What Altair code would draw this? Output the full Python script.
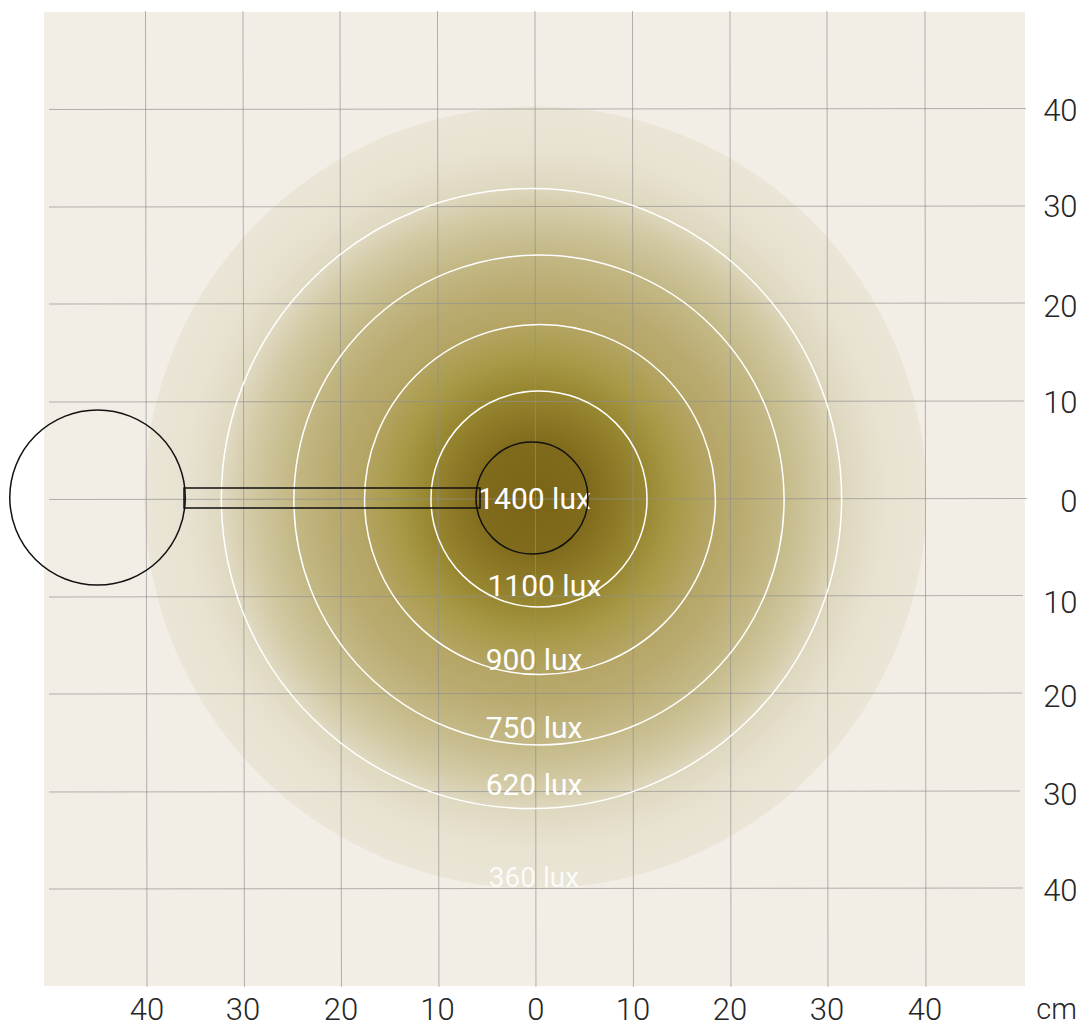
import math
import altair as alt
import pandas as pd

FONT = "Roboto"
TEXT_DARK = "#262626"

# Grid lines, in cm (they are very slightly skewed in the drawing)
v_top = [-39.95, -29.95, -20.0, -10.0, 0.0, 10.0, 20.0, 29.95, 40.0]
v_bottom = [-39.79, -29.8, -19.85, -9.85, 0.1, 10.1, 20.1, 30.05, 40.1]
h_left = [39.95, 29.95, 20.0, 9.95, -0.05, -10.05, -20.0, -30.05, -40.0]
h_right = [40.05, 30.05, 20.1, 10.05, 0.05, -9.9, -19.9, -29.95, -39.9]
h_end = [50.36, 50.26, 50.26, 50.15, 50.46, 50.05, 49.95, 49.74, 50.05]

# Illuminance contours
contour_cx = [-0.36, 0.41, 0.51, 0.41]
contour_cy = [0.05, -0.1, -0.05, 0.0]
contour_r = [31.8, 25.13, 17.95, 11.08]

# Lux labels
lux_text = ["1400 lux", "1100 lux", "900 lux", "750 lux", "620 lux", "360 lux"]
lux_x = [-0.1, 0.95, -0.1, -0.1, -0.1, -0.1]
lux_y = [-0.1, -9.0, -16.6, -23.6, -29.4, -39.0]
lux_size = [30, 30, 30, 30, 30, 28]
lux_opacity = [1, 1, 1, 1, 1, 0.85]

# Axis labels
x_labels = ["40", "30", "20", "10", "0", "10", "20", "30", "40"]
x_pos = [-39.8, -29.95, -19.9, -10.0, 0.1, 10.05, 20.0, 29.95, 40.0]
y_labels = ["40", "30", "20", "10", "0", "10", "20", "30", "40"]
y_pos = [39.7, 29.85, 19.6, 9.75, -0.4, -10.75, -20.4, -30.45, -40.3]

# Light pool gradient
stop_offset = [0, 0.14, 0.28, 0.36, 0.45, 0.52, 0.63, 0.74, 0.8, 0.9, 1]
stop_color = ["#7a6417", "#806b1c", "#998832", "#a89a48", "#b5a565", "#b9aa6f",
              "#c4b987", "#d4cba8", "#dfd9c1", "#e8e2d2", "#eae5d6"]

x_scale = alt.Scale(domain=[-50.36, 50.26], nice=False, zero=False)
y_scale = alt.Scale(domain=[-49.95, 49.95], nice=False, zero=False)
r_scale = alt.Scale(type="linear", domain=[0, 50], range=[0, 487.5], zero=True)


def X(f):
    return alt.X(f, type="quantitative", scale=x_scale, axis=None)


def Y(f):
    return alt.Y(f, type="quantitative", scale=y_scale, axis=None)


def R(f):
    return alt.Radius(f, type="quantitative", scale=r_scale, stack=False)


FULL = 2 * math.pi

gradient = alt.RadialGradient(
    gradient="radial",
    stops=[alt.GradientStop(offset=o, color=c) for o, c in zip(stop_offset, stop_color)],
)

disc = alt.Chart(pd.DataFrame({"cx": [0.05], "cy": [0.15], "r": [40.1]})).mark_arc(
    theta=0, theta2=FULL, fill=gradient
).encode(x=X("cx"), y=Y("cy"), radius=R("r"))

vgrid = alt.Chart(pd.DataFrame({"a": v_top, "b": v_bottom})).transform_calculate(
    t="50.05", u="-50.05"
).mark_rule(color="#8f8f8f", strokeWidth=0.9, opacity=0.75).encode(
    x=X("a"), x2="b", y=Y("t:Q"), y2="u:Q"
)
hgrid = alt.Chart(pd.DataFrame({"a": h_left, "b": h_right, "e": h_end})).transform_calculate(
    s="-49.85"
).mark_rule(color="#8f8f8f", strokeWidth=0.9, opacity=0.75).encode(
    x=X("s:Q"), x2="e", y=Y("a"), y2="b"
)

contours = alt.Chart(
    pd.DataFrame({"cx": contour_cx, "cy": contour_cy, "r": contour_r})
).mark_arc(theta=0, theta2=FULL, fillOpacity=0, stroke="#ffffff", strokeWidth=1.5).encode(
    x=X("cx"), y=Y("cy"), radius=R("r")
)

lux = alt.Chart(
    pd.DataFrame({"t": lux_text, "x": lux_x, "y": lux_y, "s": lux_size, "o": lux_opacity})
).mark_text(font=FONT, color="#ffffff", baseline="middle", align="center").encode(
    x=X("x"),
    y=Y("y"),
    text="t:N",
    size=alt.Size("s:Q", scale=None, legend=None),
    opacity=alt.Opacity("o:Q", scale=None, legend=None),
)

lamp_head = alt.Chart(
    pd.DataFrame({"cx": [-0.31, -44.87], "cy": [0.1, 0.15], "r": [5.74, 8.97]})
).mark_arc(theta=0, theta2=FULL, fillOpacity=0, stroke="#111111", strokeWidth=1.5).encode(
    x=X("cx"), y=Y("cy"), radius=R("r")
)
lamp_arm = alt.Chart(
    pd.DataFrame({"x": [-36.0], "x2": [-5.64], "y": [1.13], "y2": [-0.92]})
).mark_rect(fillOpacity=0, stroke="#111111", strokeWidth=1.5).encode(
    x=X("x"), x2="x2", y=Y("y"), y2="y2"
)

xlab = alt.Chart(pd.DataFrame({"t": x_labels, "x": x_pos, "y": [-52.55] * 9})).mark_text(
    font=FONT, fontWeight=300, fontSize=31, color=TEXT_DARK, baseline="middle", align="center"
).encode(x=X("x"), y=Y("y"), text="t:N")

ylab = alt.Chart(pd.DataFrame({"t": y_labels, "x": [55.65] * 9, "y": y_pos})).mark_text(
    font=FONT, fontWeight=300, fontSize=31, color=TEXT_DARK, baseline="middle", align="right"
).encode(x=X("x"), y=Y("y"), text="t:N")

cm = alt.Chart(pd.DataFrame({"t": ["cm"], "x": [53.5], "y": [-52.45]})).mark_text(
    font=FONT, fontWeight=300, fontSize=29, color=TEXT_DARK, baseline="middle", align="center"
).encode(x=X("x"), y=Y("y"), text="t:N")

chart = (
    alt.layer(disc, vgrid, hgrid, contours, lux, lamp_arm, lamp_head, xlab, ylab, cm)
    .properties(
        width=981,
        height=974,
        autosize=alt.AutoSizeParams(type="none"),
        padding={"left": 36, "top": 4, "right": 54, "bottom": 46},
        background="#ffffff",
    )
    .configure_view(fill="#f2eee6", stroke=None)
)

chart.save("out.html", embed_options={"renderer": "svg", "actions": False})
